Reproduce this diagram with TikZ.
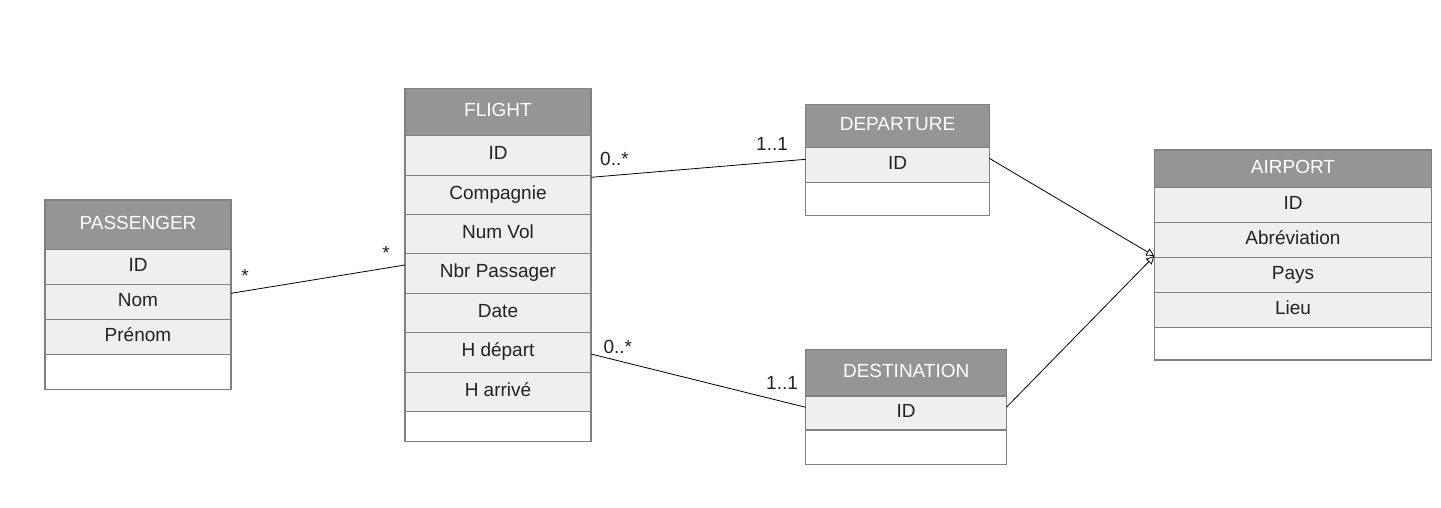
\documentclass[tikz,border=0pt]{standalone}
\usepackage{fontspec}
\setmainfont{Liberation Sans}
\usetikzlibrary{positioning,arrows.meta}
\definecolor{headgray}{HTML}{959595}
\definecolor{rowgray}{HTML}{EFEFEF}
\definecolor{linegray}{HTML}{808080}
\definecolor{txtdark}{HTML}{222222}
\begin{document}
\begin{tikzpicture}[x=1pt,y=-1pt,node distance=0pt,
  cls/.style={draw=linegray,line width=1.1pt,rectangle,inner sep=0pt,outer sep=0pt,
    font=\fontsize{19}{22}\selectfont},
  head/.style={cls,fill=headgray,text=white,text height=14pt,text depth=4.5pt},
  row/.style={cls,fill=rowgray,text=txtdark,text height=13.5pt,text depth=5pt},
  emptyrow/.style={cls,fill=white},
  mult/.style={inner sep=0pt,text=txtdark,font=\fontsize{19}{22}\selectfont},
  link/.style={line width=0.8pt,black}]
  \useasboundingbox (0,0) rectangle (1441,507);

  %passenger
  \node[head,minimum width=186pt,minimum height=49.5pt,anchor=north west] (phead) at (45,200) {PASSENGER};
  \node[row,minimum width=186pt,minimum height=35pt,below=of phead] (pid) {ID};
  \node[row,minimum width=186pt,minimum height=35pt,below=of pid] (pnom) {Nom};
  \node[row,minimum width=186pt,minimum height=35pt,below=of pnom] (pprenom) {Prénom};
  \node[emptyrow,minimum width=186pt,minimum height=35pt,below=of pprenom] (pend) {};

  %flight
  \node[head,minimum width=186pt,minimum height=47.4pt,anchor=north west] (fhead) at (405,88.3) {FLIGHT};
  \node[row,minimum width=186pt,minimum height=39.4pt,below=of fhead] (fid) {ID};
  \node[row,minimum width=186pt,minimum height=39.4pt,below=of fid] (fcomp) {Compagnie};
  \node[row,minimum width=186pt,minimum height=39.4pt,below=of fcomp] (fnum) {Num Vol};
  \node[row,minimum width=186pt,minimum height=39.4pt,below=of fnum] (fnbr) {Nbr Passager};
  \node[row,minimum width=186pt,minimum height=39.4pt,below=of fnbr] (fdate) {Date};
  \node[row,minimum width=186pt,minimum height=39.4pt,below=of fdate] (fhdep) {H départ};
  \node[row,minimum width=186pt,minimum height=39.4pt,below=of fhdep] (fharr) {H arrivé};
  \node[emptyrow,minimum width=186pt,minimum height=30pt,below=of fharr] (fend) {};

  %departure
  \node[head,minimum width=183.6pt,minimum height=43.4pt,anchor=north west] (dhead) at (805.7,104.3) {DEPARTURE};
  \node[row,minimum width=183.6pt,minimum height=34.6pt,below=of dhead] (did) {ID};
  \node[emptyrow,minimum width=183.6pt,minimum height=33.4pt,below=of did] (dend) {};

  %destination
  \node[head,minimum width=201pt,minimum height=46.7pt,anchor=north west] (shead) at (805.7,349.3) {DESTINATION};
  \node[row,minimum width=201pt,minimum height=34pt,below=of shead] (sid) {ID};
  \node[emptyrow,minimum width=201pt,minimum height=34.3pt,below=of sid] (send) {};

  %airport
  \node[head,minimum width=277.4pt,minimum height=37.7pt,anchor=north west] (ahead) at (1154.3,150) {AIRPORT};
  \node[row,minimum width=277.4pt,minimum height=34.9pt,below=of ahead] (aid) {ID};
  \node[row,minimum width=277.4pt,minimum height=34.9pt,below=of aid] (aabr) {Abréviation};
  \node[row,minimum width=277.4pt,minimum height=34.9pt,below=of aabr] (apays) {Pays};
  \node[row,minimum width=277.4pt,minimum height=34.9pt,below=of apays] (alieu) {Lieu};
  \node[emptyrow,minimum width=277.4pt,minimum height=32.7pt,below=of alieu] (aend) {};

  %associations
  \draw[link] ([yshift=8.7pt]pnom.east) -- ([yshift=8.6pt]fnbr.west);
  \draw[link] ([yshift=-2.2pt]fcomp.north east) -- ([yshift=5.7pt]did.west);
  \draw[link] ([yshift=-1.6pt]fhdep.east) -- ([yshift=5.7pt]sid.west);

  %generalisation
  \coordinate (ajoin) at ([yshift=1.5pt]apays.north west);
  \draw[link,-{Triangle[open,fill=white,length=8pt,width=8pt]}] ([yshift=6.7pt]did.east) -- (ajoin);
  \draw[link,-{Triangle[open,fill=white,length=8pt,width=8pt]}] ([yshift=6pt]sid.east) -- (ajoin);

  %multiplicities
  \node[mult,anchor=base] (mpf) at (245,282.5) {*};
  \node[mult,anchor=base] (mfp) at (386,259.8) {*};
  \node[mult,anchor=base west] (mfd) at (600,165.7) {0..*};
  \node[mult,anchor=base west] (mdf) at (756,150) {1..1};
  \node[mult,anchor=base west] (mfs) at (603.3,353.3) {0..*};
  \node[mult,anchor=base west] (msf) at (766,389.3) {1..1};
\end{tikzpicture}
\end{document}
